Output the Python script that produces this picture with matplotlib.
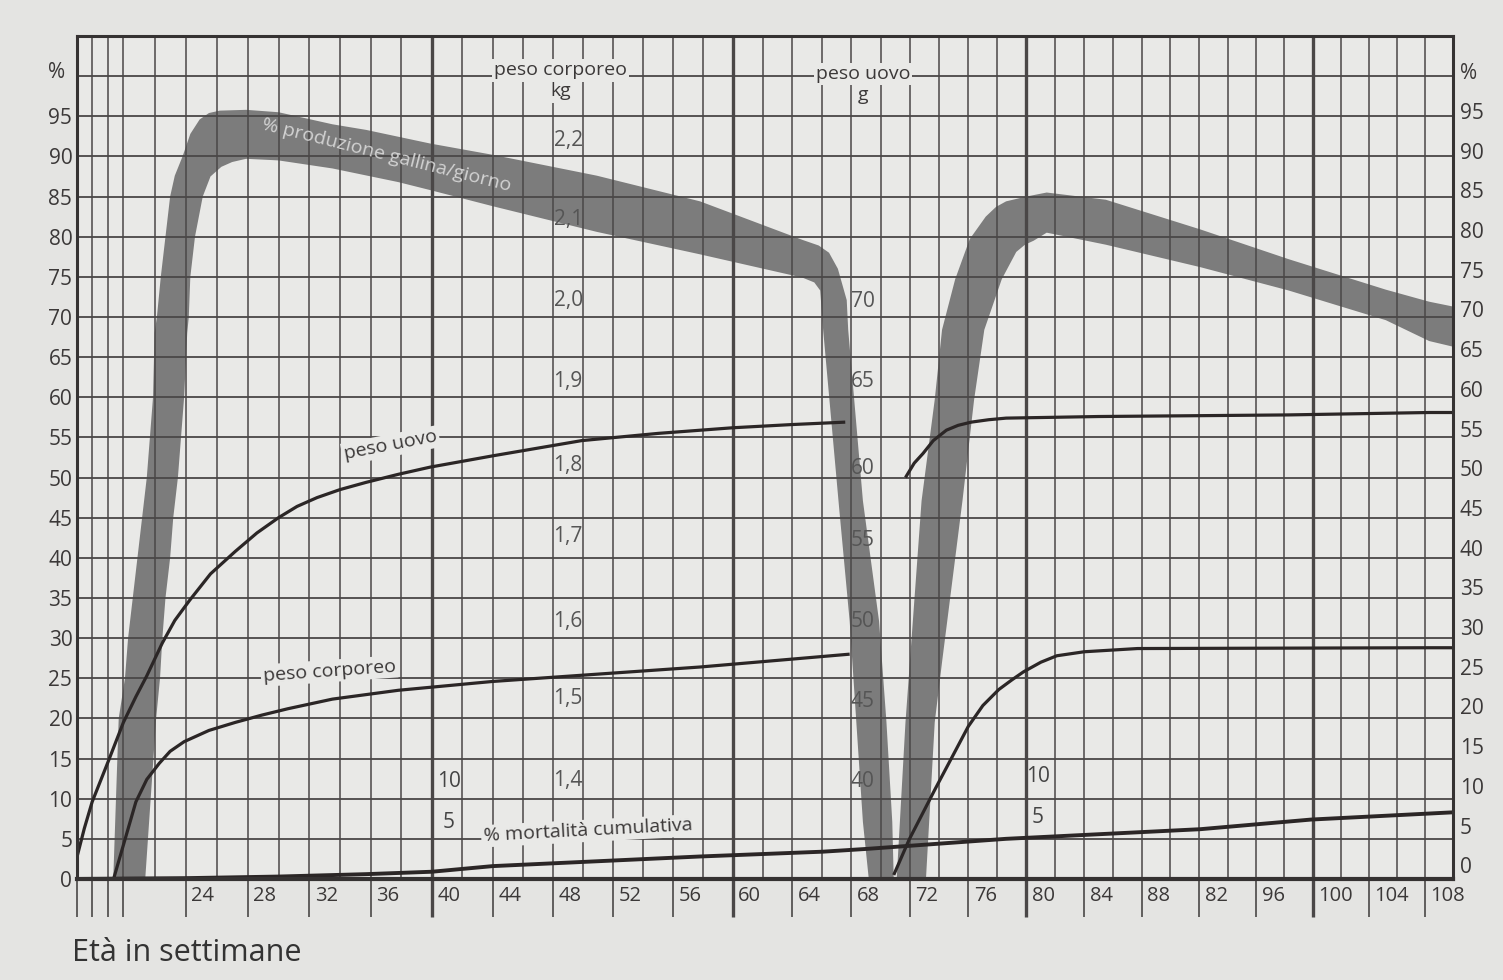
import numpy as np
import matplotlib.pyplot as plt

plt.rcParams['font.family'] = ['Open Sans', 'DejaVu Sans']

# fascia "% produzione gallina/giorno": bordo superiore e inferiore (settimane, %)
band_top_w = [19.35, 19.7, 20.1, 20.3, 20.9, 21.5, 21.9, 22.0, 22.15, 22.4, 22.7, 23.0,
              23.3, 23.8, 24.3, 24.9, 25.5, 26.2, 27.9, 30.0, 33.5, 35.7, 39.9, 44.0,
              50.9, 57.8, 64.7, 65.8, 66.5, 67.1, 67.7, 67.8, 68.8, 69.9, 70.4, 70.8, 70.9,
              71.1, 71.7, 72.0, 72.8, 73.7, 74.2, 75.1, 76.1, 77.2, 77.9, 78.6, 80.0, 81.4,
              85.5, 92.1, 98.3, 105.2, 108.3, 110.0]
band_top_v = [0, 20, 25, 30, 40, 50, 60, 68, 70, 75, 80, 85,
              87.6, 90, 92.8, 94.6, 95.4, 95.7, 95.8, 95.5, 94.0, 93.3, 91.6, 90.2,
              87.6, 84.4, 79.6, 78.9, 78.0, 76.0, 72.1, 68.4, 47.1, 32.1, 19.6, 7.1, 0,
              0, 19.5, 27.0, 47.1, 59.7, 68.4, 74.7, 79.7, 82.5, 83.7, 84.4, 85.0, 85.5,
              84.6, 80.9, 77.2, 73.4, 71.9, 71.3]
band_bot_w = [21.4, 22.1, 22.35, 22.5, 22.7, 23.0, 23.2, 23.5, 23.9, 24.1, 24.2, 24.3,
              24.6, 25.1, 25.6, 26.3, 27.0, 27.9, 30.0, 33.5, 37.8, 39.9, 44.0, 50.9, 57.8,
              64.7, 65.5, 65.9, 66.1, 67.2, 67.9, 68.8, 69.2,
              73.1, 73.7, 74.2, 75.6, 76.4, 77.1, 78.3, 79.3, 79.9, 80.5, 81.4, 85.5, 92.1,
              98.3, 105.2, 108.3, 110.0]
band_bot_v = [0, 20, 25, 30, 35, 40, 45, 50, 60, 68, 70, 75,
              80, 85, 87.5, 88.7, 89.3, 89.7, 89.5, 88.5, 86.8, 85.8, 83.8, 80.6, 77.8,
              74.9, 74.3, 73.3, 68.4, 45.9, 32.1, 7.1, 0,
              0, 19.5, 27.0, 47.1, 59.7, 68.4, 74.7, 78.1, 79.0, 79.5, 80.5, 79.0, 76.2,
              73.3, 69.6, 67.0, 66.3]

# peso uovo (in unita' della scala %)
uovo1_w = [17, 17.5, 18, 19, 20, 20.8, 21.5, 22.5, 23.3, 24.25, 25.6, 27.2, 28.6, 30,
           31.2, 32.5, 34.0, 35.7, 37.8, 39.9, 44, 49.9, 55, 60, 64, 67.6]
uovo1_v = [2.5, 6.3, 9.6, 14.5, 19.5, 22.7, 25.3, 29.4, 32.2, 34.7, 38.0, 40.8, 43.1, 45.0,
           46.4, 47.5, 48.5, 49.4, 50.4, 51.3, 52.7, 54.6, 55.5, 56.2, 56.6, 56.9]
uovo2_w = [71.7, 72.3, 72.9, 73.6, 74.5, 75.3, 76.2, 77.4, 78.6, 85, 98.3, 108.3, 110]
uovo2_v = [50.0, 51.8, 53.0, 54.6, 55.9, 56.5, 56.9, 57.2, 57.4, 57.6, 57.8, 58.1, 58.1]

# peso corporeo
corpo1_w = [19.4, 20.1, 20.8, 21.5, 22.3, 23.0, 23.9, 25.5, 27.2, 28.9, 30.6, 33.5,
            37.8, 44, 57.8, 67.9]
corpo1_v = [0.2, 4.9, 9.6, 12.4, 14.4, 15.9, 17.1, 18.5, 19.5, 20.4, 21.2, 22.4,
            23.5, 24.6, 26.4, 28.0]
corpo2_w = [70.9, 71.95, 73.7, 76.0, 77.0, 78.1, 79.0, 79.8, 81.0, 82.1, 84.0, 87.7,
            108.3, 110]
corpo2_v = [0.5, 4.9, 11.1, 19.0, 21.6, 23.6, 24.8, 25.8, 27.0, 27.8, 28.3, 28.7,
            28.8, 28.8]

# % mortalita' cumulativa
mort_w = [17, 24, 30, 35.7, 40, 44, 57.8, 66.1, 69.1, 78.6, 92.1, 99.9, 110]
mort_v = [0.0, 0.1, 0.3, 0.6, 0.9, 1.6, 2.8, 3.4, 3.75, 5.0, 6.2, 7.4, 8.3]

x_ticks = [17, 18, 19, 20] + list(range(24, 109, 4))
x_lab_w = list(range(24, 109, 4))
x_labels = ['24', '28', '32', '36', '40', '44', '48', '52', '56', '60', '64', '68',
            '72', '76', '80', '84', '88', '82', '96', '100', '104', '108']
y_ticks = list(range(0, 100, 5))

kg_labels = ['2,2', '2,1', '2,0', '1,9', '1,8', '1,7', '1,6', '1,5', '1,4']
kg_pos = [92.0, 82.1, 72.1, 62.0, 51.5, 42.6, 32.1, 22.5, 12.3]
g_labels = ['70', '65', '60', '55', '50', '45', '40']
g_pos = [71.9, 61.9, 51.1, 42.1, 32.1, 22.1, 12.1]
mort_labels = ['10', '5']
mort_pos_a = [12.2, 7.0]
mort_pos_b = [12.8, 7.7]

# scala orizzontale leggermente compressa a destra, come nella foto
P, Q = 15.678, -0.00926


def fwd(w):
    t = np.asarray(w, dtype=float) - 17
    return P * t + Q * t * t


def inv(y):
    y = np.asarray(y, dtype=float)
    return 17 + (-P + np.sqrt(np.maximum(P * P + 4 * Q * y, 0))) / (2 * Q)


paper = '#e9e9e7'
ink = '#3b3838'
grid_c = '#4a4747'
line_c = '#2b2626'

fig = plt.figure(figsize=(15.03, 9.8), dpi=100, facecolor='#e4e4e2')
ax = fig.add_axes([0.0509, 0.1031, 0.9158, 0.8602])
ax.set_facecolor(paper)
ax.set_xscale('function', functions=(fwd, inv))
ax.set_xlim(17, 110)
ax.set_ylim(0, 105)

# fascia produzione
ax.fill(band_top_w + band_bot_w[::-1], band_top_v + band_bot_v[::-1],
        color='#7c7c7c', lw=0, zorder=1)

# griglia
vgrid = [18, 19] + list(range(20, 110, 2))
vw = [2.4 if w in (40, 60, 80, 100) else 1.1 for w in vgrid]
ax.vlines(vgrid, 0, 105, colors=grid_c, linewidths=vw, zorder=2)
ax.hlines(range(5, 105, 5), 17, 110, colors=grid_c, linewidths=1.3, zorder=2)

for s in ax.spines.values():
    s.set_linewidth(2.2)
    s.set_color('#353232')
    s.set_zorder(6)
ax.spines['bottom'].set_linewidth(3)

# curve
kw = dict(color=line_c, lw=2.3, zorder=4, solid_capstyle='butt', solid_joinstyle='round')
ax.plot(uovo1_w, uovo1_v, **kw)
ax.plot(uovo2_w, uovo2_v, **kw)
ax.plot(corpo1_w, corpo1_v, **kw)
ax.plot(corpo2_w, corpo2_v, **kw)
ax.plot(mort_w, mort_v, color=line_c, lw=2.8, zorder=4)

# assi
ax.set_xticks(x_ticks)
ax.set_xticklabels([])
ax.tick_params(axis='x', direction='out', length=27, width=1.2, color=grid_c)
for t, w in zip(ax.xaxis.get_major_ticks(), x_ticks):
    if w in (40, 60, 80, 100):
        t.tick1line.set_markeredgewidth(2.4)
for w, lab in zip(x_lab_w, x_labels):
    ax.annotate(lab, xy=(w, 0), xycoords=('data', 'axes fraction'),
                xytext=(4, -5), textcoords='offset points',
                ha='left', va='top', fontsize=14.5, color=ink)

ax.set_yticks(y_ticks)
ax.set_yticklabels([str(v) for v in y_ticks], fontsize=15, color=ink)
ax.tick_params(axis='y', length=0, pad=3)
ax.annotate('%', xy=(0, 100.5), xycoords=('axes fraction', 'data'), xytext=(-8, 0),
            textcoords='offset points', ha='right', va='center', fontsize=15, color=ink)
for v in y_ticks:
    ax.annotate(str(v), xy=(1, v + 1.4 - 0.011 * v), xycoords=('axes fraction', 'data'),
                xytext=(5, 0), textcoords='offset points', ha='left', va='center',
                fontsize=15, color=ink)
ax.annotate('%', xy=(1, 100.3), xycoords=('axes fraction', 'data'), xytext=(5, 0),
            textcoords='offset points', ha='left', va='center', fontsize=15, color=ink)

# scale interne
for lab, v in zip(kg_labels, kg_pos):
    ax.text(49.0, v, lab, ha='center', va='center', fontsize=15, color='#555', zorder=5)
for lab, v in zip(g_labels, g_pos):
    ax.text(68.8, v, lab, ha='center', va='center', fontsize=15, color='#555', zorder=5)
for lab, va_, vb in zip(mort_labels, mort_pos_a, mort_pos_b):
    ax.text(41.1, va_, lab, ha='center', va='center', fontsize=15, color='#444', zorder=5)
    ax.text(80.8, vb, lab, ha='center', va='center', fontsize=15, color='#444', zorder=5)

box = dict(facecolor=paper, edgecolor='none', pad=1.5)
ax.text(48.5, 100.7, 'peso corporeo', ha='center', va='center', fontsize=14,
        color=ink, bbox=box, zorder=5)
ax.text(48.5, 98.1, 'kg', ha='center', va='center', fontsize=14,
        color=ink, bbox=box, zorder=5)
ax.text(68.8, 100.3, 'peso uovo', ha='center', va='center', fontsize=14,
        color=ink, bbox=box, zorder=5)
ax.text(68.8, 97.6, 'g', ha='center', va='center', fontsize=14,
        color=ink, bbox=box, zorder=5)

ax.text(37.3, 54.0, 'peso uovo', rotation=11, ha='center', va='center',
        fontsize=14, color=ink, bbox=box, zorder=5)
ax.text(33.3, 25.9, 'peso corporeo', rotation=4, ha='center', va='center',
        fontsize=14, color=ink, bbox=box, zorder=5)
ax.text(50.3, 6.0, '% mortalità cumulativa', rotation=3, ha='center', va='center',
        fontsize=14, color=ink, bbox=box, zorder=5)
ax.text(37.0, 90.2, '% produzione gallina/giorno', rotation=-14, ha='center',
        va='center', fontsize=14, color='#d2d2d2', zorder=5)

fig.text(72 / 1503, 1 - 953 / 980, 'Età in settimane', ha='left', va='center',
         fontsize=22, color='#333')

fig.savefig('out.png', dpi=100, facecolor=fig.get_facecolor())
